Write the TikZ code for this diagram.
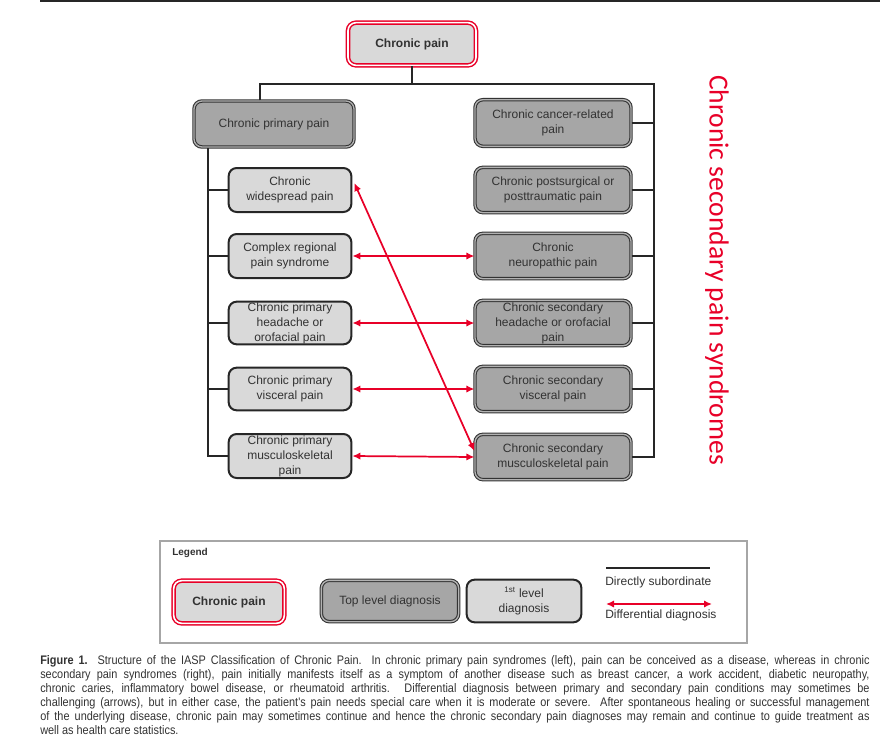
\documentclass[tikz,border=0pt]{standalone}
\usepackage{fontspec}
\setmainfont{Liberation Sans}
\newfontfamily\carl{Carlito}
\newfontfamily\capfont{Liberation Sans}[FakeStretch=0.88]
\usetikzlibrary{arrows.meta,calc}
\definecolor{cpred}{RGB}{232,0,40}
\definecolor{lgray}{RGB}{217,217,217}
\definecolor{dgray}{RGB}{166,166,166}
\definecolor{txt}{RGB}{50,50,50}
\tikzset{
  every node/.style={text=txt, font=\fontsize{9}{11.25}\selectfont, align=center, inner sep=0pt},
  cpbox/.style={draw=cpred, double=white, line width=1.1pt, double distance=1.2pt, fill=lgray, rounded corners=6pt, font=\bfseries\fontsize{9}{11.25}\selectfont},
  topbox/.style={draw=black!80, double=white!70!black, line width=0.8pt, double distance=1pt, fill=dgray, rounded corners=6pt},
  firstbox/.style={draw=black!85, line width=1.5pt, fill=lgray, rounded corners=6pt},
  tree/.style={draw=black!85, line width=1.4pt},
  diff/.style={draw=cpred, line width=1.3pt, {Latex[length=6pt,width=5.5pt]}-{Latex[length=6pt,width=5.5pt]}},
}
\begin{document}
\begin{tikzpicture}[x=0.75pt,y=-0.75pt]
\useasboundingbox (0,0) rectangle (893,744);
% top rule
\draw[line width=1.1pt, black!85] (40,1) -- (880,1);

% root
\node[cpbox, minimum width=96pt, minimum height=32pt] (cp) at (412,44) {Chronic pain};

% top level
\node[topbox, minimum width=120pt, minimum height=34.5pt] (prim) at (274,124) {Chronic primary pain};
\node[topbox, minimum width=117pt, minimum height=35pt] (r1) at (553,123) {Chronic cancer-related\\pain};
\node[topbox, minimum width=117pt, minimum height=34pt] (r2) at (553,190) {Chronic postsurgical or\\posttraumatic pain};
\node[topbox, minimum width=117pt, minimum height=34pt] (r3) at (553,256) {Chronic\\neuropathic pain};
\node[topbox, minimum width=117pt, minimum height=34pt] (r4) at (553,323) {Chronic secondary\\headache or orofacial\\pain};
\node[topbox, minimum width=117pt, minimum height=34pt] (r5) at (553,389) {Chronic secondary\\visceral pain};
\node[topbox, minimum width=117pt, minimum height=34pt] (r6) at (553,457) {Chronic secondary\\musculoskeletal pain};

% first level
\node[firstbox, minimum width=92pt, minimum height=33pt] (l1) at (290,190) {Chronic\\widespread pain};
\node[firstbox, minimum width=92pt, minimum height=33pt] (l2) at (290,256) {Complex regional\\pain syndrome};
\node[firstbox, minimum width=92pt, minimum height=32pt] (l3) at (290,323) {Chronic primary\\headache or\\orofacial pain};
\node[firstbox, minimum width=92pt, minimum height=32pt] (l4) at (290,389) {Chronic primary\\visceral pain};
\node[firstbox, minimum width=92pt, minimum height=33pt] (l5) at (290,456) {Chronic primary\\musculoskeletal\\pain};

% tree lines
\coordinate (rtop) at (654,84);
\coordinate (lbr) at (260,84);
\coordinate (ltop) at (208,148);
\draw[tree] (cp.south) -- (cp.south |- rtop);
\draw[tree] (lbr |- prim.north) -- (lbr) -- (rtop) |- (r6.east);
\foreach \i in {1,...,5} \draw[tree] (r\i.east) -- (r\i.east -| rtop);
\draw[tree] (ltop) |- (l5.west);
\foreach \i in {1,...,4} \draw[tree] (l\i.west) -- (l\i.west -| ltop);

% differential arrows
\foreach \i/\j in {2/3,3/4,4/5,5/6} \draw[diff] (l\i.east) -- (r\j.west);
\draw[diff] ($(l1.east)+(2,-7)$) -- ($(r6.west)+(0,-6)$);

% vertical label
\node[rotate=-90, text=cpred, font=\carl\fontsize{20.7}{23}\selectfont] (vlab) at (717,270) {Chronic secondary pain syndromes};

% legend
\draw[draw=black!35, line width=0.9pt] (160,541) rectangle (747,643);
\node[anchor=west, font=\bfseries\fontsize{7.5}{9}\selectfont] (leg) at (172,553) {Legend};
\node[cpbox, minimum width=83pt, minimum height=32pt] (lcp) at (229,602) {Chronic pain};
\node[topbox, minimum width=103pt, minimum height=31pt] (ltl) at (390,601) {Top level diagnosis};
\node[firstbox, minimum width=86pt, minimum height=32pt] (lfl) at (524,601) {\textsuperscript{1st} level\\diagnosis};
\coordinate (s1) at (606,568);
\coordinate (s2) at (710,568);
\draw[tree] (s1) -- (s2);
\node[anchor=north west] (sub) at (605,577) {Directly subordinate};
\coordinate (d1) at (606,604);
\coordinate (d2) at (712,604);
\draw[diff] (d1) -- (d2);
\node[anchor=north west] (dd) at (605,610) {Differential diagnosis};

% caption
\node[anchor=north west, text width=622pt, align=justify, text=txt, font=\capfont\fontsize{9.3}{10.6}\selectfont] (cap) at (40,655) {%
\textbf{Figure 1.} Structure of the IASP Classification of Chronic Pain. In chronic primary pain syndromes (left), pain can be conceived as a disease, whereas in chronic\linebreak
secondary pain syndromes (right), pain initially manifests itself as a symptom of another disease such as breast cancer, a work accident, diabetic neuropathy,\linebreak
chronic caries, inflammatory bowel disease, or rheumatoid arthritis. Differential diagnosis between primary and secondary pain conditions may sometimes be\linebreak
challenging (arrows), but in either case, the patient's pain needs special care when it is moderate or severe. After spontaneous healing or successful management\linebreak
of the underlying disease, chronic pain may sometimes continue and hence the chronic secondary pain diagnoses may remain and continue to guide treatment as\linebreak
well as health care statistics.};
\end{tikzpicture}
\end{document}
